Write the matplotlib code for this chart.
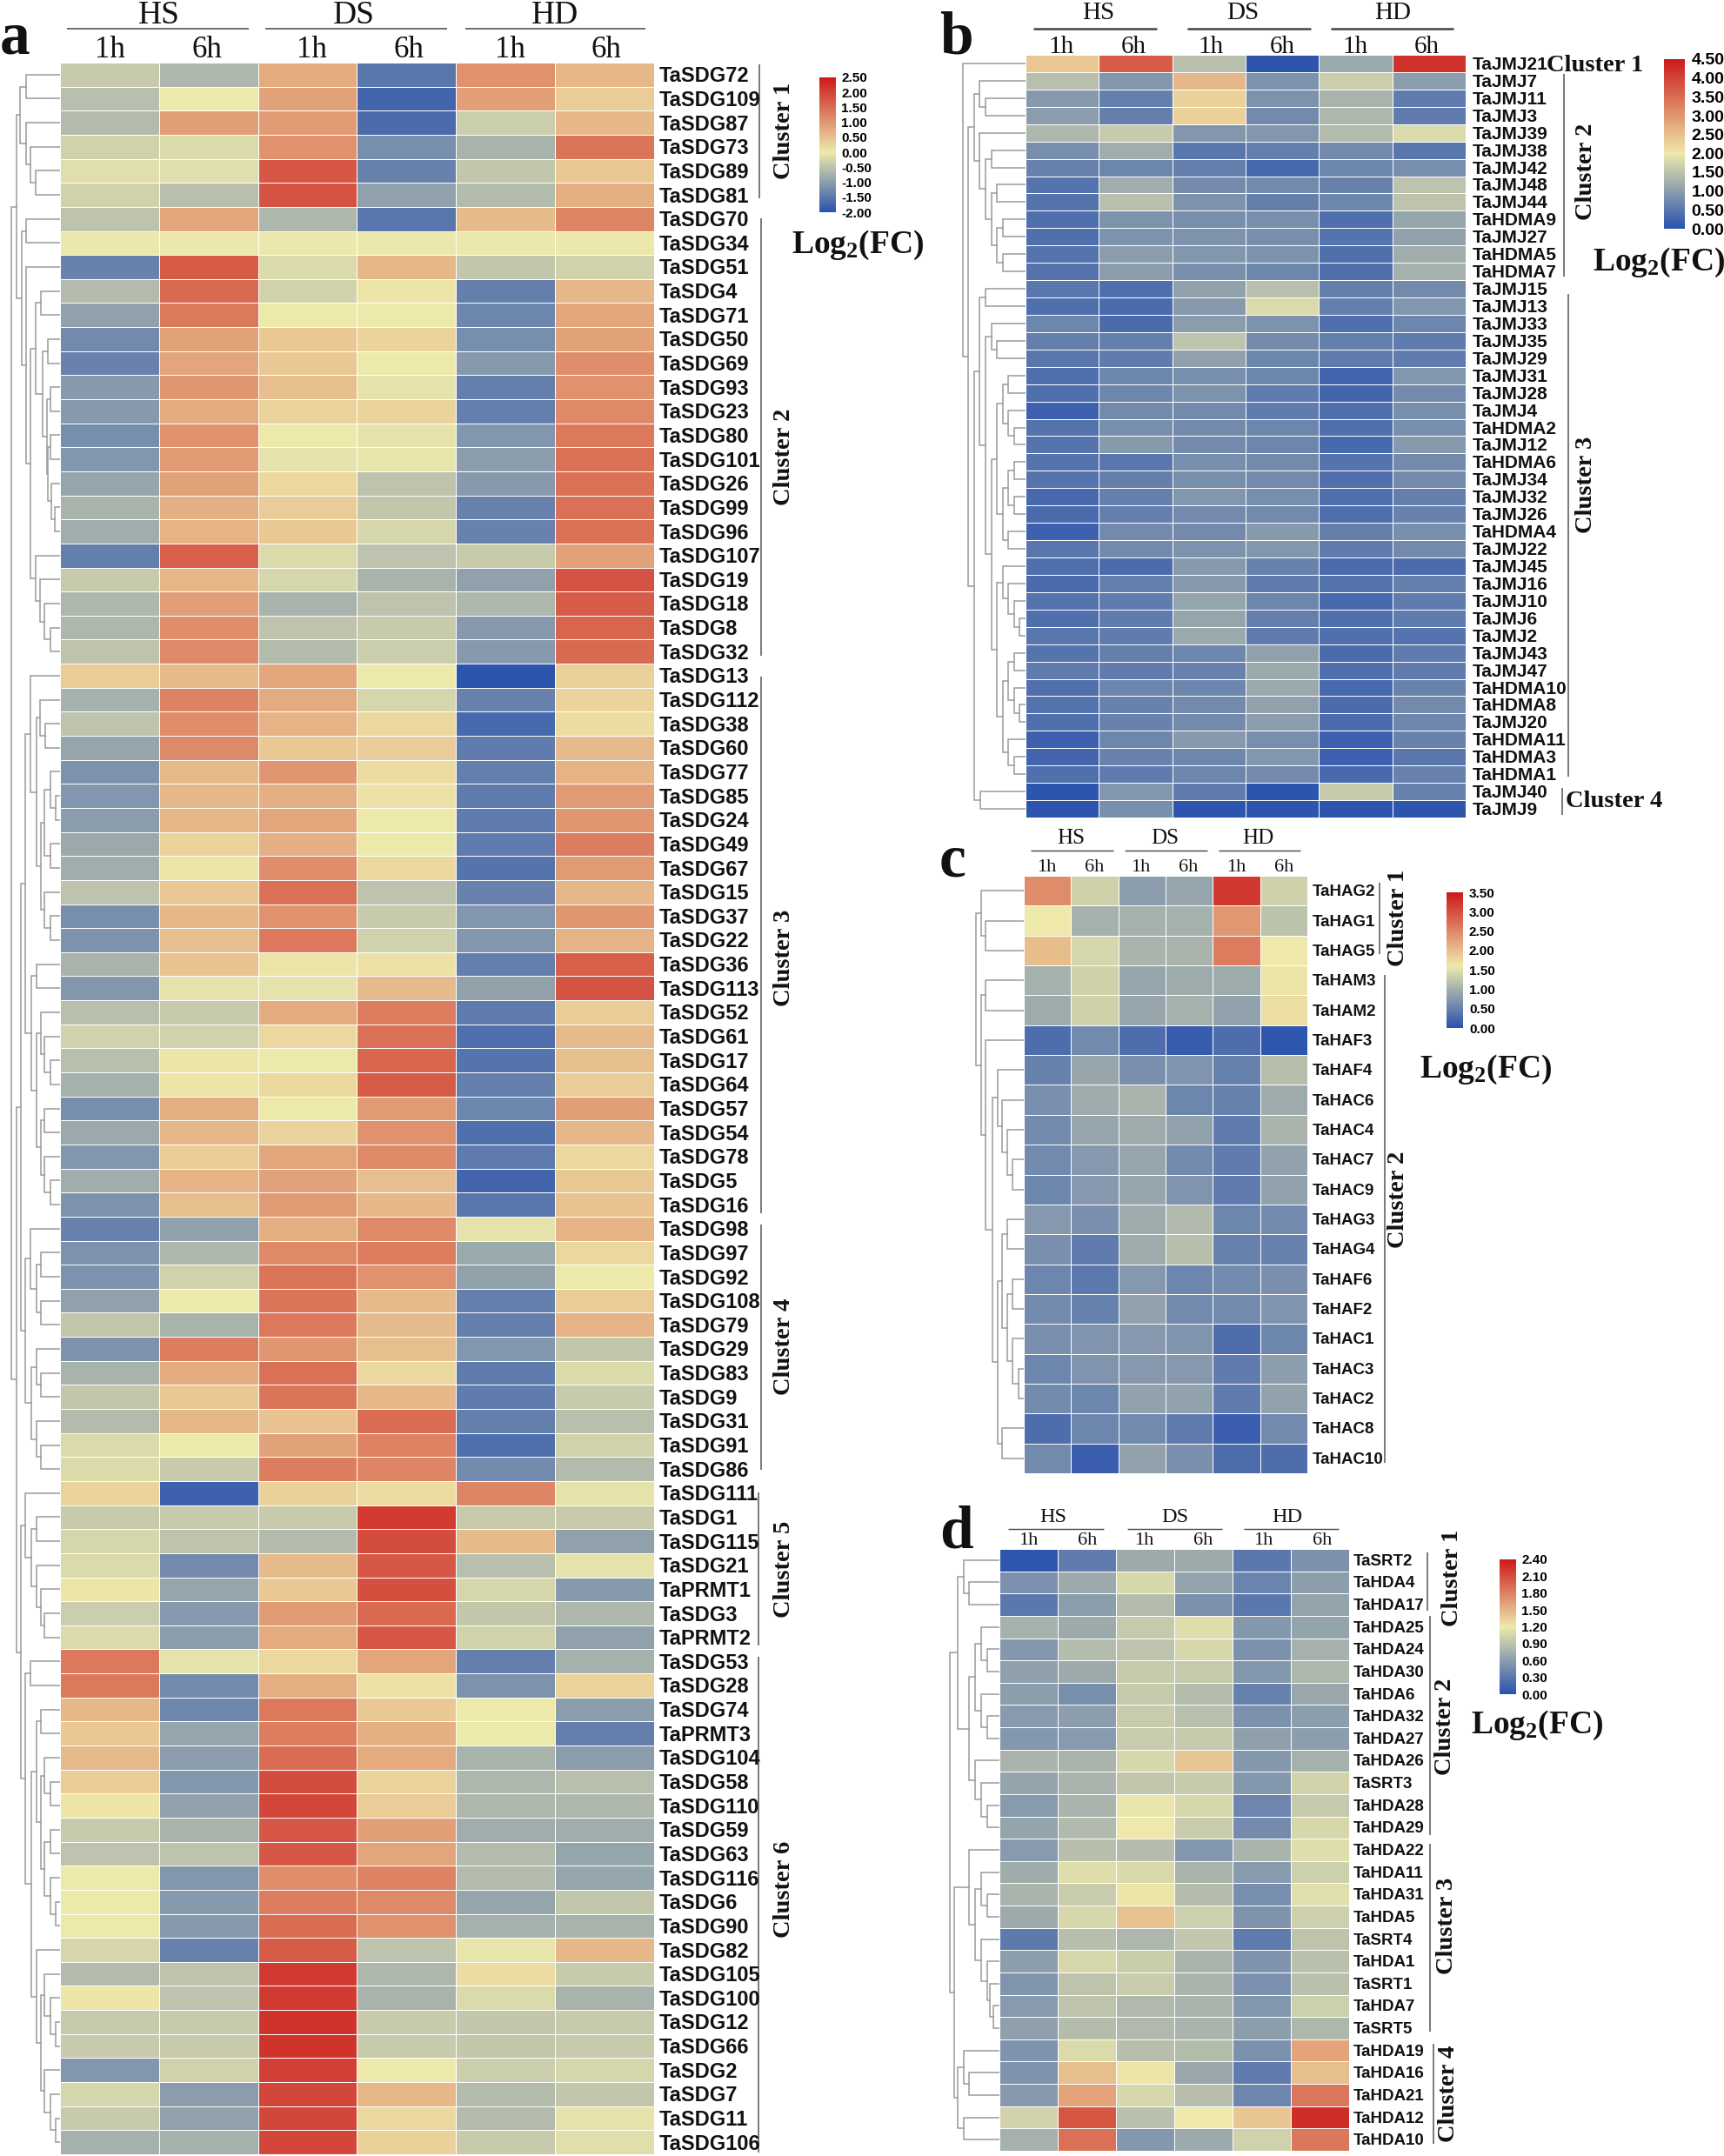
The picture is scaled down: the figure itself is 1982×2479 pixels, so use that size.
import numpy as np
import matplotlib
matplotlib.use('Agg')
import matplotlib.pyplot as plt
from matplotlib.colors import LinearSegmentedColormap, Normalize

plt.rcParams['font.family'] = ['Liberation Sans', 'DejaVu Sans']
plt.rcParams['mathtext.fontset'] = 'custom'
plt.rcParams['mathtext.bf'] = 'Liberation Serif:bold'
plt.rcParams['mathtext.rm'] = 'Liberation Serif'

W, H = 1982, 2479

groups = ['HS', 'DS', 'HD']
times = ['1h', '6h', '1h', '6h', '1h', '6h']

names_a = ['TaSDG72','TaSDG109','TaSDG87','TaSDG73','TaSDG89','TaSDG81','TaSDG70','TaSDG34','TaSDG51','TaSDG4',
           'TaSDG71','TaSDG50','TaSDG69','TaSDG93','TaSDG23','TaSDG80','TaSDG101','TaSDG26','TaSDG99','TaSDG96',
           'TaSDG107','TaSDG19','TaSDG18','TaSDG8','TaSDG32','TaSDG13','TaSDG112','TaSDG38','TaSDG60','TaSDG77',
           'TaSDG85','TaSDG24','TaSDG49','TaSDG67','TaSDG15','TaSDG37','TaSDG22','TaSDG36','TaSDG113','TaSDG52',
           'TaSDG61','TaSDG17','TaSDG64','TaSDG57','TaSDG54','TaSDG78','TaSDG5','TaSDG16','TaSDG98','TaSDG97',
           'TaSDG92','TaSDG108','TaSDG79','TaSDG29','TaSDG83','TaSDG9','TaSDG31','TaSDG91','TaSDG86','TaSDG111',
           'TaSDG1','TaSDG115','TaSDG21','TaPRMT1','TaSDG3','TaPRMT2','TaSDG53','TaSDG28','TaSDG74','TaPRMT3',
           'TaSDG104','TaSDG58','TaSDG110','TaSDG59','TaSDG63','TaSDG116','TaSDG6','TaSDG90','TaSDG82','TaSDG105',
           'TaSDG100','TaSDG12','TaSDG66','TaSDG2','TaSDG7','TaSDG11','TaSDG106']
vals_a = [
 [-0.4,-0.65,0.75,-1.5,1.05,0.6],[-0.55,0.0,0.85,-1.75,0.9,0.35],[-0.6,0.9,0.95,-1.65,-0.35,0.6],
 [-0.3,-0.2,1.05,-1.2,-0.7,1.4],[-0.15,-0.15,1.75,-1.35,-0.45,0.4],[-0.3,-0.55,1.8,-0.95,-0.6,0.7],
 [-0.5,0.8,-0.65,-1.5,0.55,1.2],[-0.03,-0.03,-0.03,-0.03,-0.03,-0.03],[-1.35,1.7,-0.2,0.6,-0.45,-0.3],
 [-0.6,1.55,-0.3,0.05,-1.4,0.6],[-0.95,1.35,0.0,0.0,-1.3,0.8],[-1.25,0.85,0.4,0.25,-1.2,0.85],
 [-1.35,0.8,0.4,0.0,-1.05,1.1],[-1.05,1.0,0.5,-0.1,-1.4,1.05],[-1.05,0.75,0.25,0.25,-1.4,1.15],
 [-1.2,1.05,0.0,-0.1,-1.1,1.35],[-1.1,0.95,-0.1,-0.05,-1.0,1.45],[-0.9,0.85,0.2,-0.5,-1.05,1.45],
 [-0.7,0.7,0.35,-0.45,-1.35,1.45],[-0.8,0.65,0.4,-0.25,-1.35,1.45],[-1.4,1.65,-0.2,-0.5,-0.4,0.85],
 [-0.4,0.6,-0.25,-0.7,-0.95,1.8],[-0.65,0.9,-0.7,-0.5,-0.65,1.7],[-0.65,1.1,-0.5,-0.4,-1.05,1.6],
 [-0.5,1.15,-0.6,-0.35,-1.05,1.55],[0.35,0.55,0.8,0.0,-1.95,0.3],[-0.75,1.25,0.75,-0.25,-1.35,0.25],
 [-0.5,1.1,0.65,0.2,-1.7,0.15],[-0.9,1.15,0.4,0.35,-1.45,0.55],[-1.15,0.55,1.0,0.15,-1.4,0.65],
 [-1.1,0.6,0.7,0.1,-1.45,0.95],[-1.0,0.6,0.8,0.0,-1.45,1.0],[-0.85,0.25,0.7,0.0,-1.45,1.3],
 [-0.8,0.05,1.1,0.2,-1.55,0.95],[-0.5,0.4,1.45,-0.5,-1.35,0.6],[-1.2,0.6,1.05,-0.4,-1.1,1.0],
 [-1.15,0.5,1.35,-0.3,-1.1,0.65],[-0.7,0.45,0.05,0.1,-1.4,1.65],[-1.1,-0.1,-0.1,0.55,-0.95,1.8],
 [-0.55,-0.4,0.75,1.3,-1.45,0.35],[-0.3,-0.3,0.2,1.45,-1.6,0.55],[-0.55,0.05,0.0,1.6,-1.55,0.5],
 [-0.75,0.05,0.2,1.7,-1.4,0.35],[-1.2,0.7,0.0,0.95,-1.3,0.9],[-0.85,0.6,0.25,1.05,-1.6,0.6],
 [-1.1,0.35,0.8,1.15,-1.45,0.2],[-0.8,0.65,0.85,0.5,-1.75,0.4],[-1.15,0.5,0.95,0.6,-1.5,0.45],
 [-1.35,-0.95,0.7,1.15,-0.1,0.65],[-1.15,-0.65,1.15,1.3,-0.85,0.2],[-1.15,-0.3,1.4,1.05,-0.95,0.0],
 [-0.95,0.0,1.4,0.55,-1.4,0.35],[-0.45,-0.7,1.35,0.55,-1.4,0.65],[-1.15,1.3,1.0,0.5,-1.1,-0.45],
 [-0.7,0.75,1.45,0.2,-1.45,-0.2],[-0.45,0.4,1.4,0.6,-1.45,-0.4],[-0.6,0.6,0.45,1.5,-1.4,-0.55],
 [-0.2,0.0,0.85,1.25,-1.6,-0.3],[-0.2,-0.4,1.3,1.2,-1.25,-0.6],[0.25,-1.8,0.3,0.15,1.2,-0.1],
 [-0.4,-0.4,-0.4,2.1,-0.4,-0.4],[-0.25,-0.5,-0.6,1.9,0.55,-0.95],[-0.2,-1.25,0.55,1.75,-0.55,-0.1],
 [0.05,-0.9,0.4,1.85,-0.25,-1.05],[-0.35,-1.05,0.95,1.55,-0.45,-0.65],[-0.2,-1.0,0.75,1.75,-0.3,-0.95],
 [1.35,-0.1,0.2,0.8,-1.4,-0.75],[1.35,-1.25,0.7,0.1,-1.15,0.25],[0.6,-1.3,1.35,0.4,0.0,-1.0],
 [0.4,-0.9,1.3,0.7,0.0,-1.4],[0.55,-1.0,1.5,0.75,-0.7,-1.0],[0.35,-1.1,1.9,0.25,-0.65,-0.55],
 [0.05,-0.95,1.95,0.35,-0.65,-0.65],[-0.4,-0.7,1.75,0.9,-0.8,-0.8],[-0.5,-0.5,1.75,0.8,-0.6,-0.9],
 [0.0,-1.1,1.1,1.25,-0.6,-0.9],[0.0,-1.05,1.3,1.15,-0.9,-0.45],[0.0,-1.05,1.5,1.05,-0.75,-0.7],
 [-0.25,-1.35,1.7,-0.5,-0.05,0.6],[-0.6,-0.5,2.1,-0.65,0.15,-0.4],[0.05,-0.5,2.1,-0.7,-0.2,-0.7],
 [-0.4,-0.4,2.2,-0.4,-0.45,-0.4],[-0.4,-0.4,2.2,-0.4,-0.45,-0.4],[-1.1,-0.3,2.05,0.0,-0.35,-0.25],
 [-0.25,-1.0,1.95,0.6,-0.6,-0.45],[-0.4,-0.95,1.95,0.2,-0.6,-0.1],[-0.75,-0.75,1.95,0.3,-0.4,-0.15]]

names_b = ['TaJMJ21','TaJMJ7','TaJMJ11','TaJMJ3','TaJMJ39','TaJMJ38','TaJMJ42','TaJMJ48','TaJMJ44','TaHDMA9','TaJMJ27',
           'TaHDMA5','TaHDMA7','TaJMJ15','TaJMJ13','TaJMJ33','TaJMJ35','TaJMJ29','TaJMJ31','TaJMJ28','TaJMJ4','TaHDMA2',
           'TaJMJ12','TaHDMA6','TaJMJ34','TaJMJ32','TaJMJ26','TaHDMA4','TaJMJ22','TaJMJ45','TaJMJ16','TaJMJ10','TaJMJ6',
           'TaJMJ2','TaJMJ43','TaJMJ47','TaHDMA10','TaHDMA8','TaJMJ20','TaHDMA11','TaHDMA3','TaHDMA1','TaJMJ40','TaJMJ9']
vals_b = [
 [2.4,3.7,1.45,0.05,1.15,4.2],[1.45,0.9,2.6,0.85,1.65,1.0],[0.95,0.6,2.3,0.85,1.3,0.55],[1.0,0.6,2.3,0.75,1.35,0.55],
 [1.35,1.6,0.9,0.9,1.4,1.8],[0.8,1.2,0.5,0.6,0.75,0.5],[0.65,0.7,0.6,0.3,0.7,0.8],[0.45,1.2,0.75,0.75,0.65,1.5],
 [0.45,1.45,0.85,0.6,0.7,1.5],[0.4,0.85,0.8,0.8,0.4,1.1],[0.4,0.85,0.85,0.8,0.45,1.05],[0.45,1.0,0.9,0.85,0.4,1.2],
 [0.45,1.0,0.8,0.7,0.4,1.25],[0.5,0.4,1.05,1.45,0.6,0.75],[0.4,0.35,0.95,1.8,0.6,0.9],[0.7,0.35,1.0,0.85,0.4,0.7],
 [0.6,0.6,1.5,0.75,0.6,0.55],[0.5,0.55,1.05,0.7,0.55,0.55],[0.4,0.7,0.8,0.7,0.25,0.9],[0.4,0.7,0.85,0.55,0.25,0.75],
 [0.2,0.75,0.75,0.55,0.4,0.8],[0.45,0.8,0.75,0.7,0.4,0.8],[0.45,0.95,0.75,0.7,0.3,0.95],[0.45,0.5,0.8,0.75,0.45,0.75],
 [0.45,0.6,0.8,0.75,0.4,0.75],[0.3,0.6,0.9,0.8,0.4,0.6],[0.35,0.6,0.75,0.75,0.4,0.65],[0.2,0.75,0.75,0.95,0.6,0.8],
 [0.5,0.75,0.85,0.9,0.55,0.75],[0.4,0.35,0.95,0.65,0.35,0.35],[0.35,0.6,0.95,0.55,0.45,0.6],[0.45,0.55,1.1,0.7,0.3,0.55],
 [0.4,0.55,1.1,0.6,0.4,0.55],[0.5,0.55,1.15,0.55,0.4,0.45],[0.45,0.6,0.7,1.05,0.35,0.55],[0.55,0.55,0.65,1.15,0.4,0.55],
 [0.4,0.7,0.7,1.15,0.3,0.65],[0.45,0.65,0.75,1.05,0.35,0.75],[0.4,0.65,0.75,1.0,0.35,0.7],[0.2,0.7,0.95,0.8,0.2,0.65],
 [0.25,0.65,0.7,0.9,0.2,0.5],[0.4,0.55,0.7,0.75,0.3,0.65],[0.05,0.9,0.55,0.05,1.6,0.65],[0.05,0.8,0.05,0.05,0.05,0.05]]

names_c = ['TaHAG2','TaHAG1','TaHAG5','TaHAM3','TaHAM2','TaHAF3','TaHAF4','TaHAC6','TaHAC4','TaHAC7','TaHAC9','TaHAG3',
           'TaHAG4','TaHAF6','TaHAF2','TaHAC1','TaHAC3','TaHAC2','TaHAC8','TaHAC10']
vals_c = [
 [2.45,1.35,0.8,0.9,3.2,1.35],[1.6,1.0,1.0,1.0,2.35,1.2],[2.0,1.4,1.05,1.05,2.6,1.6],[1.0,1.35,0.9,0.95,0.95,1.65],
 [0.95,1.35,0.9,1.0,0.85,1.7],[0.3,0.6,0.3,0.12,0.3,0.05],[0.5,0.9,0.65,0.7,0.5,1.15],[0.65,0.95,1.05,0.55,0.5,0.95],
 [0.6,0.9,0.95,0.85,0.45,1.05],[0.6,0.75,0.9,0.6,0.45,0.85],[0.55,0.75,0.9,0.7,0.45,0.85],[0.75,0.65,0.95,1.1,0.55,0.6],
 [0.65,0.45,0.95,1.15,0.5,0.5],[0.55,0.42,0.75,0.55,0.6,0.65],[0.6,0.5,0.85,0.6,0.6,0.7],[0.65,0.7,0.75,0.7,0.3,0.55],
 [0.55,0.7,0.75,0.75,0.45,0.8],[0.6,0.55,0.85,0.85,0.45,0.85],[0.3,0.55,0.6,0.45,0.15,0.6],[0.6,0.15,0.85,0.65,0.3,0.3]]

names_d = ['TaSRT2','TaHDA4','TaHDA17','TaHDA25','TaHDA24','TaHDA30','TaHDA6','TaHDA32','TaHDA27','TaHDA26','TaSRT3',
           'TaHDA28','TaHDA29','TaHDA22','TaHDA11','TaHDA31','TaHDA5','TaSRT4','TaHDA1','TaSRT1','TaHDA7','TaSRT5',
           'TaHDA19','TaHDA16','TaHDA21','TaHDA12','TaHDA10']
vals_d = [
 [0.03,0.33,0.7,0.7,0.3,0.5],[0.5,0.7,1.05,0.65,0.4,0.6],[0.3,0.6,0.85,0.5,0.3,0.65],[0.75,0.7,0.95,1.1,0.55,0.65],
 [0.55,0.85,0.9,1.05,0.5,0.75],[0.62,0.7,0.95,0.95,0.55,0.8],[0.6,0.48,0.95,0.85,0.38,0.68],[0.58,0.6,0.97,0.88,0.5,0.6],
 [0.55,0.58,0.97,0.95,0.62,0.6],[0.78,0.78,1.05,1.4,0.55,0.75],[0.65,0.78,0.92,0.95,0.55,1.03],[0.58,0.78,1.18,1.05,0.42,0.95],
 [0.65,0.83,1.2,0.97,0.45,1.05],[0.58,0.87,0.85,0.55,0.78,1.1],[0.72,1.1,1.07,0.78,0.58,1.0],[0.78,0.97,1.22,0.85,0.48,1.12],
 [0.7,1.05,1.42,1.0,0.52,1.0],[0.32,0.87,0.8,0.92,0.33,0.9],[0.6,1.05,0.98,0.78,0.52,0.88],[0.53,0.9,0.97,0.78,0.5,0.88],
 [0.58,0.9,0.82,0.78,0.55,1.0],[0.62,0.85,0.82,0.78,0.6,0.8],[0.52,1.08,0.87,0.85,0.5,1.6],[0.52,1.45,1.22,0.68,0.33,1.45],
 [0.57,1.6,1.05,0.87,0.42,1.85],[1.03,2.05,0.88,1.2,1.4,2.28],[0.75,1.9,0.55,0.7,1.02,1.85]]

# colorbar ticks
ticks_a = ['2.50','2.00','1.50','1.00','0.50','0.00','-0.50','-1.00','-1.50','-2.00']
ticks_b = ['4.50','4.00','3.50','3.00','2.50','2.00','1.50','1.00','0.50','0.00']
ticks_c = ['3.50','3.00','2.50','2.00','1.50','1.00','0.50','0.00']
ticks_d = ['2.40','2.10','1.80','1.50','1.20','0.90','0.60','0.30','0.00']

# dendrograms: (merge height, child, child), o is a leaf, leaves go in row order
o = 0
ta1 = (46,(39,o,o),(39,o,(34,o,(28,o,o))))
ta2 = (44,(39,o,o),(39,o,(34,(28,(22,o,o),(20,(14,o,o),(15,(11,o,o),(14,(11,o,o),(10,o,(6,o,o)))))),(28,o,(23,o,(18,o,(11,o,o)))))))
ta3 = (40,(34,o,(27,(23,o,(17,o,o)),(22,(18,(11,o,(5,o,o)),(11,o,o)),(18,o,(11,o,o))))),
       (33,(27,o,o),(27,(22,o,(18,o,(11,o,o))),(22,(18,o,o),(18,o,(11,o,o))))))
ta4 = (40,(34,o,(27,(22,o,o),(22,o,o))),(33,(27,o,(22,o,o)),(27,o,(22,o,o))))
ta5 = (40,o,(33,(27,o,o),(27,o,(22,o,(18,o,o)))))
ta6 = (40,(34,o,o),(33,(27,(22,o,o),(22,(18,o,(11,o,o)),(18,(11,o,o),(11,o,(5,o,o))))),
       (27,o,(22,(18,o,(11,o,(5,o,o))),(18,o,(11,o,(5,o,o)))))))
tree_a = (56,(50,ta1,ta2),(50,(45,ta3,ta4),(45,ta5,ta6)))

tb2 = (59,(53,o,(46,o,o)),(53,o,(46,(39,o,o),(39,(33,o,o),(33,(26,o,o),(26,o,o))))))
tb3 = (53,(46,o,o),(46,(39,o,(33,o,o)),(39,(33,(26,(20,o,o),(20,o,(13,o,o))),(26,(20,(13,o,o),(13,o,o)),(20,o,o))),
       (33,(26,o,(20,o,(13,o,(7,o,o)))),(26,(20,(13,o,o),(13,o,(7,o,o))),(20,o,(13,o,o)))))))
tree_b = (72,o,(66,tb2,(59,tb3,(52,o,o))))

tree_c = (55,(49,o,(44,o,o)),(49,(44,o,o),(44,o,(36,(30,o,(25,o,(19,o,(13,o,o)))),
          (30,(25,(19,o,o),(19,(13,o,o),(13,o,(6,o,o)))),(25,o,o))))))

td1 = (41,o,(35,o,o))
td2 = (35,(28,(21,o,(14,o,o)),(21,o,(14,o,o))),(28,o,(21,o,(14,o,o))))
td3 = (35,o,(28,(21,o,(14,o,o)),(21,o,(14,o,(11,o,(7,o,o))))))
td4 = (48,(41,o,(35,o,o)),(41,o,o))
tree_d = (57,(48,td1,td2),(52,td3,td4))

BLUE, YEL, RED = '#2A52AE', '#EEE9AB', '#CC1A1A'

fig = plt.figure(figsize=(W/100, H/100), dpi=100)

def px_axes(x0, y0, x1, y1):
    return fig.add_axes([x0/W, 1-y1/H, (x1-x0)/W, (y1-y0)/H])

# pixel overlay for text and rules
over = px_axes(0, 0, W, H)
over.set_xlim(0, W)
over.set_ylim(H, 0)
over.axis('off')
over.set_zorder(10)
over.patch.set_alpha(0)

def draw_tree(ax, node, next_leaf):
    if not isinstance(node, tuple):
        y = next_leaf[0] + 0.5
        next_leaf[0] += 1
        return 0, y
    h, a, b = node
    ha, ya = draw_tree(ax, a, next_leaf)
    hb, yb = draw_tree(ax, b, next_leaf)
    ax.plot([ha, h, h, hb], [ya, ya, yb, yb], color='#9a9a9a', lw=1.1, solid_joinstyle='miter')
    return h, (ya+yb)/2

def heat(box, vals, names, tree, vmin, vcen, vmax, label_x, fs, dy):
    x0, y0, x1, y1 = box
    data = np.array(vals)
    n = len(names)
    f = (vcen-vmin)/(vmax-vmin)
    cmap = LinearSegmentedColormap.from_list('m', [(0, BLUE), (f, YEL), (1, RED)])
    ax = px_axes(x0, y0, x1, y1)
    mesh = ax.pcolormesh(data, cmap=cmap, norm=Normalize(vmin, vmax), edgecolors='white', linewidth=0.7)
    ax.set_ylim(n, 0)
    ax.axis('off')
    # dendrogram
    d = px_axes(x0-76, y0, x0, y1)
    draw_tree(d, tree, [0])
    d.set_xlim(76, 0)
    d.set_ylim(n, 0)
    d.axis('off')
    rh = (y1-y0)/n
    for i, nm in enumerate(names):
        over.text(label_x, y0+(i+0.5)*rh+dy, nm, fontsize=fs, fontweight='bold', va='center', ha='left', color='#111111')
    return mesh

def cbar(mesh, box, ticks, fs, pad):
    cax = px_axes(*box)
    cb = fig.colorbar(mesh, cax=cax)
    pos = [float(t) for t in ticks]
    cb.set_ticks(pos)
    cb.set_ticklabels(ticks)
    cb.ax.tick_params(length=0, pad=pad)
    for t in cb.ax.get_yticklabels():
        t.set_fontsize(fs)
        t.set_fontweight('bold')
    cb.outline.set_visible(False)

def serif(x, y, s, fs, **kw):
    kw.setdefault('ha', 'center')
    kw.setdefault('va', 'center')
    over.text(x, y, s, fontsize=fs, family='Liberation Serif', color='#111111', **kw)

def header(gx, gy, gfs, lines, ly, lw, tx, ty, tfs):
    for g, x in zip(groups, gx):
        serif(x, gy, g, gfs)
    for a, b in lines:
        over.plot([a, b], [ly, ly], color='#444444', lw=lw, solid_capstyle='butt')
    for t, x in zip(times, tx):
        serif(x, ty, t, tfs)

def bracket(x, y0, y1):
    over.plot([x, x], [y0, y1], color='#555555', lw=1.1, solid_capstyle='butt')

def clabel(x, y, s, rot=90, fs=20.5):
    serif(x, y, s, fs, fontweight='bold', rotation=rot)

log2 = r'$\mathbf{Log_{2}(FC)}$'

# panel a
m = heat((69, 72, 752, 2477), vals_a, names_a, tree_a, -2, 0, 2.5, 758, 17, 2)
cbar(m, (942, 89, 961, 244), ticks_a, 11, 4.5)
header([183, 407, 638], 18, 27, [(77, 286), (305, 514), (535, 742)], 33, 1.1,
       [126, 238, 358, 470, 586, 697], 58, 25)
serif(0, 61, 'a', 50, fontweight='bold', ha='left', va='baseline')
for x, y0, y1 in [(873, 74, 228), (875, 251, 754), (875, 778, 1395), (875, 1408, 1690), (872, 1716, 1892), (872, 1905, 2475)]:
    bracket(x, y0, y1)
for i, y in enumerate([150, 525, 1101, 1548, 1804, 2172]):
    clabel(902, y, 'Cluster %d' % (i+1))
serif(986, 282, log2, 27)

# panel b
m = heat((1179, 63, 1685, 940), vals_b, names_b, tree_b, 0, 2, 4.5, 1693, 15, 1.5)
cbar(m, (1913, 68, 1937, 263), ticks_b, 14, 5.5)
header([1263, 1429, 1601], 15, 21, [(1188, 1330), (1365, 1507), (1530, 1671)], 33, 1.8,
       [1220, 1303, 1392, 1474, 1558, 1640], 54, 21)
serif(1080, 62, 'b', 50, fontweight='bold', ha='left', va='baseline')
bracket(1798, 85, 318)
bracket(1803, 338, 893)
bracket(1796, 906, 937)
clabel(1834, 76, 'Cluster 1', rot=0)
clabel(1824, 197, 'Cluster 2')
clabel(1824, 557, 'Cluster 3')
clabel(1856, 921, 'Cluster 4', rot=0)
serif(1907, 302, log2, 27)

# panel c
m = heat((1177, 1007, 1503, 1694), vals_c, names_c, tree_c, 0, 1.6, 3.5, 1509, 13.5, 1.5)
cbar(m, (1663, 1026, 1682, 1182), ticks_c, 11, 5)
header([1231, 1339.5, 1446.5], 964, 18, [(1185, 1280), (1293, 1388), (1401, 1495)], 978, 1.0,
       [1203, 1258, 1311, 1366, 1421, 1476], 998, 16)
serif(1080, 1007, 'c', 50, fontweight='bold', ha='left', va='baseline')
bracket(1586, 1015, 1097)
bracket(1591.5, 1121, 1682)
clabel(1608, 1055, 'Cluster 1')
clabel(1608, 1379, 'Cluster 2')
serif(1708, 1230, log2, 27)

# panel d
m = heat((1149, 1781, 1551, 2473), vals_d, names_d, tree_d, 0, 1.2, 2.4, 1556, 13.5, 1.5)
cbar(m, (1724, 1793, 1743, 1948), ticks_d, 11, 4.5)
header([1211, 1351, 1480], 1744, 17.5, [(1159, 1269), (1296, 1405), (1430, 1539)], 1758, 1.0,
       [1182, 1250, 1315, 1383, 1452, 1520], 1771, 16)
serif(1080, 1780, 'd', 50, fontweight='bold', ha='left', va='baseline')
bracket(1641, 1785, 1852)
bracket(1644, 1858, 2110)
bracket(1644, 2120, 2336)
bracket(1648, 2350, 2465)
clabel(1669, 1814, 'Cluster 1')
clabel(1662, 1985, 'Cluster 2')
clabel(1664, 2214, 'Cluster 3')
clabel(1666, 2407, 'Cluster 4')
serif(1767, 1984, log2, 27)

fig.savefig('out.png', dpi=100)
